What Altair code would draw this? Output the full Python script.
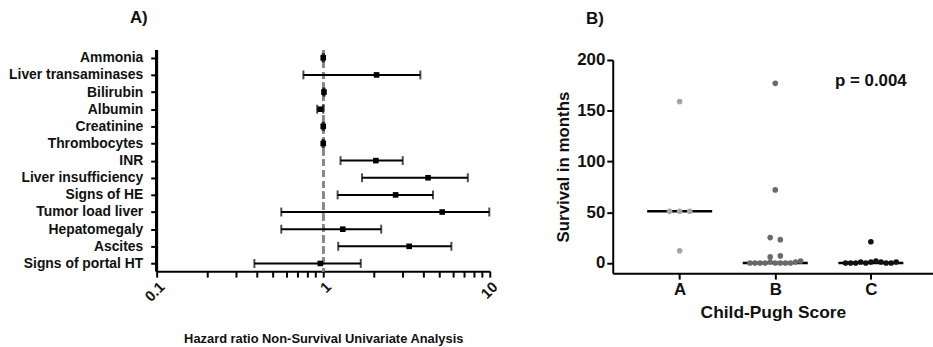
import json
import altair as alt
import pandas as pd

# ---------------- Panel A data ----------------
factors = ["Ammonia", "Liver transaminases", "Bilirubin", "Albumin", "Creatinine",
           "Thrombocytes", "INR", "Liver insufficiency", "Signs of HE",
           "Tumor load liver", "Hepatomegaly", "Ascites", "Signs of portal HT"]
hazard = [1.00, 2.09, 1.01, 0.96, 1.00, 1.00, 2.07, 4.26, 2.72, 5.18, 1.31, 3.28, 0.96]
ci_low = [0.99, 0.76, 1.00, 0.92, 0.99, 0.99, 1.27, 1.71, 1.22, 0.56, 0.56, 1.23, 0.386]
ci_high = [1.01, 3.83, 1.02, 1.00, 1.01, 1.01, 3.00, 7.38, 4.56, 9.93, 2.23, 5.88, 1.68]
major_ticks = [0.1, 1, 10]
minor_ticks = [0.2, 0.3, 0.4, 0.5, 0.6, 0.7, 0.8, 0.9, 2, 3, 4, 5, 6, 7, 8, 9]

# ---------------- Panel B data ----------------
groups = ["A", "B", "C"]
surv_A = [159, 51, 51, 51, 12]
slot_A = [0, -2, 0, 2, 0]
surv_B = [177, 72, 25, 23, 6, 7, 0, 0, 0, 0, 1, 0, 0, 0, 0, 1, 2]
slot_B = [0, 0, -1, 1, -1, 1, -5, -4, -3, -2, -1, 0, 1, 2, 3, 4, 5]
surv_C = [21, 0, 0, 0, 1, 0, 1, 2, 1, 0, 0, 1]
slot_C = [0, -5, -4, -3, -2, -1, 0, 1, 2, 3, 4, 5]
medians = [51, 0, 0]
p_label = "p = 0.004"

FONT = "Liberation Sans"

df_a = pd.DataFrame({"factor": factors, "hr": hazard, "lo": ci_low, "hi": ci_high})

xscale = alt.Scale(type="log", domain=[0.1, 10], nice=False)
yscale = alt.Scale(type="point", domain=factors, padding=0.45)

label_expr_a = " || ".join(f"datum.value == {v}" for v in major_ticks)
x_axis_a = alt.Axis(values=sorted(major_ticks + minor_ticks),
                    labelExpr=f"({label_expr_a}) ? format(datum.value, '~g') : ''",
                    labelAngle=-45, labelOverlap=False, labelFlush=False,
                    title="Hazard ratio Non-Survival Univariate Analysis",
                    titleFontSize=13, titlePadding=29, labelFontSize=15,
                    tickSize=6, labelPadding=2, grid=False)
y_axis_a = alt.Axis(title=None, labelFontSize=14, tickSize=6, labelPadding=8,
                    domain=True, ticks=True, domainColor="black", domainWidth=2,
                    domainOpacity=1, tickColor="black", tickWidth=2, grid=False)

base_a = alt.Chart(df_a)
left_line = alt.Chart(df_a).mark_rule(color="black", strokeWidth=2).encode(
    x=alt.datum(min(major_ticks), scale=xscale))
ref = alt.Chart(df_a).mark_rule(color="#888888", strokeDash=[7, 4], strokeWidth=2).encode(
    x=alt.datum(1, scale=xscale))
bars = base_a.mark_rule(color="black", strokeWidth=2).encode(
    x=alt.X("lo:Q", scale=xscale, axis=x_axis_a),
    x2="hi:Q",
    y=alt.Y("factor:N", scale=yscale, axis=y_axis_a, sort=factors))
cap_lo = base_a.mark_tick(color="black", thickness=2, size=9, orient="vertical").encode(
    x=alt.X("lo:Q", scale=xscale), y=alt.Y("factor:N", scale=yscale, sort=factors))
cap_hi = base_a.mark_tick(color="black", thickness=2, size=9, orient="vertical").encode(
    x=alt.X("hi:Q", scale=xscale), y=alt.Y("factor:N", scale=yscale, sort=factors))
pts = base_a.mark_point(shape="square", filled=True, color="black", size=32, opacity=1).encode(
    x=alt.X("hr:Q", scale=xscale), y=alt.Y("factor:N", scale=yscale, sort=factors))

panel_a = alt.layer(left_line, ref, bars, cap_lo, cap_hi, pts).properties(
    width=336, height=223,
    title=alt.TitleParams("A)", anchor="start", frame="group", dx=-27, offset=22,
                          fontSize=17, font=FONT, fontWeight="bold"))

# ---------------- Panel B ----------------
rows = []
for g, vals, slots in zip(groups, [surv_A, surv_B, surv_C], [slot_A, slot_B, slot_C]):
    for v, s in zip(vals, slots):
        rows.append({"group": g, "gi": groups.index(g) + 1, "surv": v, "slot": s})
df_b = pd.DataFrame(rows)
df_med = pd.DataFrame({"group": groups, "gi": [1, 2, 3], "med": medians})
df_p = pd.DataFrame({"gi": [3], "y": [179], "txt": [p_label]})

xs_b = alt.Scale(domain=[0.3, 3.65], nice=False, zero=False)
ys_b = alt.Scale(domain=[-10, 200], range=[225, 10], nice=False, zero=False)
x_axis_b = alt.Axis(values=[1, 2, 3],
                    labelExpr=f"{json.dumps(groups)}[datum.value - 1]",
                    title="Child-Pugh Score", titleFontSize=17.5, labelFontSize=17,
                    tickSize=6, labelPadding=3, titlePadding=6, grid=False)
y_axis_b = alt.Axis(values=[0, 50, 100, 150, 200], title="Survival in months",
                    titleFontSize=17, labelFontSize=17, tickSize=6, labelPadding=2,
                    titlePadding=4, grid=False)

dots = alt.Chart(df_b).transform_calculate(
    xpos="datum.gi + datum.slot * 0.053"
).mark_circle(size=32, opacity=1).encode(
    x=alt.X("xpos:Q", scale=xs_b, axis=x_axis_b),
    y=alt.Y("surv:Q", scale=ys_b, axis=y_axis_b),
    color=alt.Color("group:N", scale=alt.Scale(domain=groups,
                    range=["#a4a4a4", "#6a6a6a", "#111111"]), legend=None))
med = alt.Chart(df_med).transform_calculate(
    x1="datum.gi - 0.34", x2="datum.gi + 0.34"
).mark_rule(color="black", strokeWidth=2.5).encode(
    x=alt.X("x1:Q", scale=xs_b), x2="x2:Q", y=alt.Y("med:Q", scale=ys_b))
ptxt = alt.Chart(df_p).mark_text(font=FONT, fontWeight="bold", fontSize=17,
                                  color="#111111").encode(
    x=alt.X("gi:Q", scale=xs_b), y=alt.Y("y:Q", scale=ys_b), text="txt:N")

panel_b = alt.layer(med, dots, ptxt).properties(
    width=323, height=225,
    title=alt.TitleParams("B)", anchor="start", frame="group", dx=-27, offset=22,
                          fontSize=17, font=FONT, fontWeight="bold"))

chart = alt.hconcat(panel_a, panel_b, spacing=54).properties(
    padding={"left": 8, "top": 8, "right": 0, "bottom": 0}
).configure_view(stroke=None).configure_axis(
    domainColor="black", domainWidth=2, tickColor="black", tickWidth=2,
    labelFont=FONT, labelFontWeight="bold", labelColor="#111111",
    titleFont=FONT, titleFontWeight="bold", titleColor="#111111"
).configure_title(color="#111111")

chart.save("out.html", embed_options={"renderer": "svg", "actions": False})
